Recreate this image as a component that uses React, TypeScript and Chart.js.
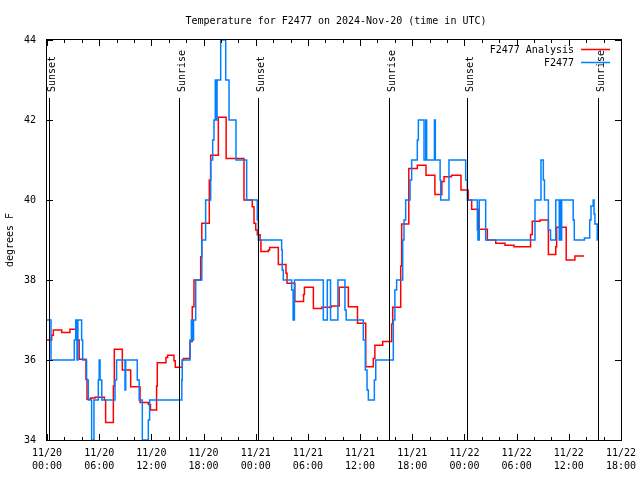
import { useEffect, useRef } from "react";
import { Chart, registerables } from "chart.js";

Chart.register(...registerables);

const TITLE = "Temperature for F2477 on 2024-Nov-20 (time in UTC)";
const Y_LABEL = "degrees F";
const SERIES_NAMES = ["F2477 Analysis", "F2477"];
const SERIES_COLORS = ["#ff0000", "#0080ff"];

// x axis: hours since 11/20 00:00 UTC
const X_MIN = 0;
const X_MAX = 66;
const X_STEP = 6;
const X_DATES = ["11/20", "11/20", "11/20", "11/20", "11/21", "11/21", "11/21", "11/21", "11/22", "11/22", "11/22", "11/22"];
const X_TIMES = ["00:00", "06:00", "12:00", "18:00", "00:00", "06:00", "12:00", "18:00", "00:00", "06:00", "12:00", "18:00"];
const Y_MIN = 34;
const Y_MAX = 44;
const Y_STEP = 2;

const SUNSET_HOURS = [0.27, 24.3, 48.33];
const SUNRISE_HOURS = [15.2, 39.36, 63.4];

// F2477 Analysis (red)
const analysisHours = [
  0, 0.54, 0.73, 1.69, 2.64, 3.49, 3.7, 4.48, 4.6, 5.02, 5.52, 6.6, 6.74, 7.63, 7.74, 8.66,
  9.62, 10.7, 11.65, 11.9, 12.6, 12.68, 13.68, 13.87, 14.6, 14.75, 15.56, 15.68, 16.44, 16.7,
  16.9, 17.67, 17.8, 18.66, 18.82, 19.7, 20.6, 22.65, 23.6, 23.8, 24.0, 24.18, 24.5, 24.6,
  25.45, 25.6, 26.6, 27.48, 27.6, 28.5, 29.5, 29.6, 30.63, 31.6, 32.7, 33.6, 34.65, 35.7,
  36.65, 37.52, 37.7, 38.6, 39.63, 39.75, 40.67, 40.78, 41.6, 42.58, 43.58, 44.6, 45.4,
  45.65, 46.5, 47.6, 48.43, 48.83, 49.6, 50.63, 51.6, 52.66, 53.7, 55.6, 55.8, 56.7, 57.65,
  58.5, 58.6, 59.7, 60.7, 61.75,
];
const analysisTemps = [
  36.5, 36.62, 36.75, 36.69, 36.77, 36.5, 36.02, 35.52, 35.02, 35.05, 35.07, 35.0, 34.44, 35.35, 36.27, 35.75,
  35.33, 34.94, 34.89, 34.75, 35.35, 35.93, 36.06, 36.12, 35.98, 35.82, 36.0, 36.04, 36.46, 37.33,
  38.0, 38.58, 39.42, 40.5, 41.12, 42.07, 41.04, 40.0, 39.83, 39.42, 39.25, 39.13, 39.0, 38.71,
  38.75, 38.81, 38.39, 38.17, 37.92, 37.46, 37.64, 37.82, 37.29, 37.32, 37.35, 37.82, 37.33, 36.92,
  35.83, 36.04, 36.37, 36.46, 36.9, 37.32, 38.35, 39.4, 40.79, 40.87, 40.62, 40.14, 40.46,
  40.58, 40.62, 40.25, 40.0, 39.77, 39.27, 39.0, 38.92, 38.87, 38.83, 39.14, 39.47, 39.5, 38.64,
  38.83, 39.32, 38.5, 38.6, 38.6,
];

// F2477 observations (blue)
const obsHours = [
  0, 0.46, 3.14, 3.3, 3.45, 3.55, 3.98, 4.1, 4.55, 4.75, 5.13, 5.4, 5.9, 6.0, 6.1, 6.3,
  7.82, 8.0, 8.97, 9.05, 10.38, 10.6, 10.96, 11.65, 11.8, 15.5, 15.55, 16.44, 16.6, 16.75,
  16.85, 17.1, 17.8, 18.24, 18.82, 19.05, 19.2, 19.35, 19.45, 19.55, 19.97, 20.55, 20.93,
  21.73, 22.96, 24.18, 24.3, 26.98, 27.05, 27.17, 28.13, 28.3, 28.45, 31.77, 32.23, 32.6,
  33.45, 34.26, 34.4, 36.37, 36.6, 36.8, 36.95, 37.64, 37.8, 39.82, 40.0, 40.2, 40.9, 41.05,
  41.24, 41.74, 41.93, 42.58, 42.7, 43.35, 43.55, 43.65, 44.55, 44.65, 45.2, 45.27, 46.22,
  48.14, 48.33, 49.48, 49.55, 49.7, 50.44, 56.11, 56.8, 57.07, 57.2, 57.65, 57.9, 58.5, 58.9,
  59.05, 59.1, 59.18, 60.5, 60.63, 61.8, 62.4, 62.55, 62.8, 62.9, 63.0, 63.27, 63.35,
];
const obsTemps = [
  37.0, 36.0, 36.5, 37.0, 36.0, 37.0, 36.5, 36.0, 35.5, 35.0, 34.0, 35.0, 35.5, 36.0, 35.5, 35.0,
  35.5, 36.0, 35.25, 36.0, 35.5, 35.0, 34.0, 34.5, 35.0, 35.5, 36.0, 36.5, 37.0, 36.5,
  37.0, 38.0, 39.0, 40.0, 41.0, 41.5, 42.0, 43.0, 42.0, 43.0, 44.0, 43.0, 42.0,
  41.0, 40.0, 39.5, 39.0, 38.75, 38.25, 38.0, 37.75, 37.0, 38.0, 37.0, 38.0, 37.0,
  38.0, 37.25, 37.0, 36.5, 35.75, 35.25, 35.0, 35.5, 36.0, 37.0, 37.75, 38.0, 39.0, 39.5,
  40.0, 40.5, 41.0, 41.5, 42.0, 41.0, 42.0, 41.0, 42.0, 41.0, 40.5, 40.0, 41.0,
  40.5, 40.0, 39.25, 39.0, 40.0, 39.0, 40.0, 41.0, 40.5, 40.0, 39.25, 39.0, 40.0, 39.0,
  40.0, 39.0, 40.0, 39.5, 39.0, 39.05, 39.5, 39.85, 40.0, 39.65, 39.4, 39.0, 39.0,
];

const FONT_FAMILY = "'DejaVu Sans Mono', 'Liberation Mono', monospace";
const FONT = "10px " + FONT_FAMILY;

const toPoints = (xs: number[], ys: number[]) => xs.map((x, i) => ({ x, y: ys[i] }));

const framePlugin = {
  id: "gnuFrame",
  afterDatasetsDraw(chart: any) {
    const { ctx, chartArea: a, scales } = chart;
    const xs = scales.x;
    const ys = scales.y;
    ctx.save();
    ctx.strokeStyle = "#000";
    ctx.fillStyle = "#000";
    ctx.lineWidth = 1;

    // sunrise / sunset markers
    ctx.font = FONT;
    const marks: [number, string][] = [
      ...SUNSET_HOURS.map((h) => [h, "Sunset"] as [number, string]),
      ...SUNRISE_HOURS.map((h) => [h, "Sunrise"] as [number, string]),
    ];
    marks.forEach(([h, label]) => {
      const px = Math.round(xs.getPixelForValue(h)) + 0.5;
      ctx.beginPath();
      ctx.moveTo(px, 98);
      ctx.lineTo(px, a.bottom);
      ctx.stroke();
      ctx.save();
      ctx.translate(px + 5.5, 92);
      ctx.rotate(-Math.PI / 2);
      ctx.textAlign = "left";
      ctx.textBaseline = "alphabetic";
      ctx.fillText(label, 0, 0);
      ctx.restore();
    });

    // border
    ctx.strokeRect(a.left - 0.5, a.top - 0.5, a.right - a.left + 1, a.bottom - a.top + 1);

    // x ticks (inward, top & bottom)
    ctx.beginPath();
    for (let h = X_MIN; h <= X_MAX; h += 2) {
      const px = Math.round(xs.getPixelForValue(h)) + 0.5;
      const len = h % X_STEP === 0 ? 6 : 3;
      ctx.moveTo(px, a.bottom);
      ctx.lineTo(px, a.bottom - len);
      ctx.moveTo(px, a.top);
      ctx.lineTo(px, a.top + len);
    }
    // y ticks (inward, left & right)
    for (let v = Y_MIN; v <= Y_MAX; v += Y_STEP) {
      const py = Math.round(ys.getPixelForValue(v)) + 0.5;
      ctx.moveTo(a.left, py);
      ctx.lineTo(a.left + 6, py);
      ctx.moveTo(a.right, py);
      ctx.lineTo(a.right - 6, py);
    }
    ctx.stroke();

    // legend
    ctx.font = FONT;
    ctx.textAlign = "right";
    ctx.textBaseline = "middle";
    const legendY = [50, 63];
    SERIES_NAMES.forEach((name, i) => {
      ctx.fillStyle = "#000";
      ctx.fillText(name, 574, legendY[i]);
      ctx.strokeStyle = SERIES_COLORS[i];
      ctx.lineWidth = 1.5;
      ctx.beginPath();
      ctx.moveTo(581, legendY[i] - 0.5);
      ctx.lineTo(610, legendY[i] - 0.5);
      ctx.stroke();
    });

    // title
    ctx.fillStyle = "#000";
    ctx.textAlign = "center";
    ctx.textBaseline = "alphabetic";
    ctx.fillText(TITLE, (a.left + a.right) / 2 + 2, 24);

    // y label
    ctx.save();
    ctx.translate(10, (a.top + a.bottom) / 2);
    ctx.rotate(-Math.PI / 2);
    ctx.textAlign = "center";
    ctx.textBaseline = "middle";
    ctx.fillText(Y_LABEL, 0, 0);
    ctx.restore();

    ctx.restore();
  },
};

export default function App() {
  const canvasRef = useRef<HTMLCanvasElement | null>(null);

  useEffect(() => {
    const canvas = canvasRef.current;
    if (!canvas) return;
    const chart = new Chart(canvas, {
      type: "line",
      data: {
        datasets: [
          {
            label: SERIES_NAMES[0],
            data: toPoints(analysisHours, analysisTemps),
            borderColor: SERIES_COLORS[0],
            backgroundColor: SERIES_COLORS[0],
            borderWidth: 1.5,
            pointRadius: 0,
            stepped: true,
            fill: false,
            order: 2,
          },
          {
            label: SERIES_NAMES[1],
            data: toPoints(obsHours, obsTemps),
            borderColor: SERIES_COLORS[1],
            backgroundColor: SERIES_COLORS[1],
            borderWidth: 1.5,
            pointRadius: 0,
            stepped: true,
            fill: false,
            order: 1,
          },
        ],
      },
      options: {
        animation: false,
        responsive: false,
        events: [],
        layout: { padding: { left: 0, right: 19, top: 40, bottom: 0 } },
        plugins: {
          legend: { display: false },
          title: { display: false },
          tooltip: { enabled: false },
        },
        scales: {
          x: {
            type: "linear",
            min: X_MIN,
            max: X_MAX,
            afterFit: (s: any) => {
              s.height = 40;
              s.paddingLeft = 0;
              s.paddingRight = 0;
            },
            grid: { display: false, drawTicks: false },
            border: { display: false },
            ticks: {
              stepSize: X_STEP,
              autoSkip: false,
              maxRotation: 0,
              padding: 7,
              color: "#000",
              font: { family: FONT_FAMILY, size: 10, lineHeight: 1.3 },
              callback: (v: any) => {
                const i = Math.round(Number(v) / X_STEP);
                return [X_DATES[i], X_TIMES[i]];
              },
            },
          },
          y: {
            min: Y_MIN,
            max: Y_MAX,
            afterFit: (s: any) => {
              s.width = 47;
              s.paddingTop = 0;
              s.paddingBottom = 0;
            },
            grid: { display: false, drawTicks: false },
            border: { display: false },
            ticks: {
              stepSize: Y_STEP,
              padding: 11,
              color: "#000",
              font: { family: FONT_FAMILY, size: 10 },
              callback: (v: any) => String(v),
            },
          },
        },
      },
      plugins: [framePlugin],
    });
    return () => chart.destroy();
  }, []);

  return (
    <div style={{ position: "absolute", left: 0, top: 0, width: 640, height: 480, background: "#fff" }}>
      <canvas ref={canvasRef} width={640} height={480} style={{ display: "block" }} />
    </div>
  );
}
